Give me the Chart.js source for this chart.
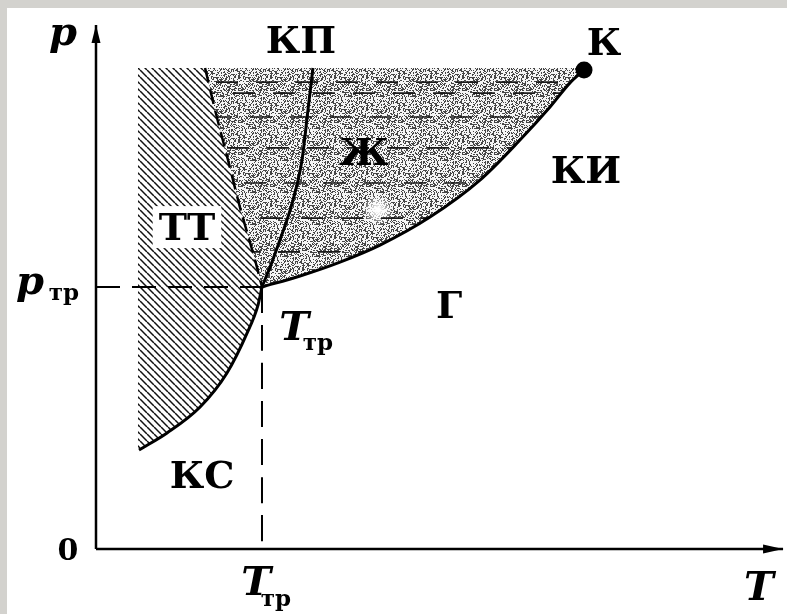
<!DOCTYPE html>
<html><head><meta charset="utf-8">
<script src="https://cdn.jsdelivr.net/npm/chart.js@4.4.1/dist/chart.umd.min.js"></script>
<style>html,body{margin:0;padding:0;background:#fff;overflow:hidden}canvas{display:block}</style>
</head><body>
<canvas id="c" width="787" height="614"></canvas>
<script>
// Units: T measured in T_tr, p measured in p_tr
const sublimationT = [0.259,0.428,0.627,0.789,0.910,0.976,1.000];
const sublimationP = [0.378,0.443,0.542,0.672,0.824,0.931,1.000];
const meltingT = [1.000,1.060,1.108,1.187,1.241,1.277,1.307];
const meltingP = [1.000,1.095,1.179,1.332,1.485,1.676,1.836];
const vaporT = [1.000,1.229,1.470,1.711,2.012,2.313,2.554,2.735,2.855,2.940];
const vaporP = [1.000,1.042,1.095,1.160,1.267,1.408,1.561,1.687,1.779,1.828];
const boundaryT = [0.657,0.717,0.795,0.867,0.958,1.000];
const boundaryP = [1.836,1.676,1.485,1.305,1.103,1.000];
const criticalPoint = [2.940,1.828];
const triplePoint = [1.000,1.000];
const regionTopP = 1.836;
const solidLeftT = 0.253;
const axisTopP = 2.0;
const axisEndT = 4.139;
const liquidRowsP = [1.782,1.740,1.649,1.531,1.397,1.263,1.134];
const labelTexts = ['p','КП','К','Ж','КИ','ТТ','Г','T','тр','КС','0','T','тр','T','p','тр'];
const labelKinds = ['i','b','b','b','b','b','b','i','s','b','n','i','s','i','i','s'];
const labelT = [-0.199,1.235,3.060,1.614,2.952,0.548,2.127,1.193,1.337,0.639,-0.169,0.964,1.084,3.994,-0.398,-0.193];
const labelP = [1.924,1.893,1.885,1.466,1.397,1.179,0.882,0.798,0.760,0.233,-0.042,-0.176,-0.218,-0.195,0.973,0.950];

const pts = (Ts, Ps) => Ts.map((t, i) => ({x: t, y: Ps[i]}));

function hatchPattern(ctx){
  const c = document.createElement('canvas'); c.width = 7; c.height = 7;
  const g = c.getContext('2d');
  g.fillStyle = '#fff'; g.fillRect(0,0,7,7);
  g.strokeStyle = '#111'; g.lineWidth = 1.5;
  for (let k = -1; k <= 1; k++) { g.beginPath(); g.moveTo(0, k*7); g.lineTo(7, 7 + k*7); g.stroke(); }
  return ctx.createPattern(c, 'repeat');
}
function stipplePattern(ctx){
  const n = 32, c = document.createElement('canvas'); c.width = n; c.height = n;
  const g = c.getContext('2d');
  const img = g.createImageData(n, n);
  for (let yy = 0; yy < n; yy++) for (let xx = 0; xx < n; xx++) {
    let h = Math.imul(xx, 374761393) + Math.imul(yy, 668265263);
    h = Math.imul(h ^ (h >>> 13), 1274126177); h = (h ^ (h >>> 16)) >>> 0;
    const v = (h % 100) < 36 ? 70 : 245;
    const o = (yy*n + xx)*4; img.data[o]=v; img.data[o+1]=v; img.data[o+2]=v; img.data[o+3]=255;
  }
  g.putImageData(img, 0, 0);
  return ctx.createPattern(c, 'repeat');
}

const phasePlugin = {
  id: 'phase',
  beforeDraw(chart){
    const ctx = chart.ctx; ctx.save();
    ctx.fillStyle = '#d3d2ce'; ctx.fillRect(0, 0, chart.width, chart.height);
    ctx.fillStyle = '#fff'; ctx.fillRect(7, 8, chart.width - 7, chart.height - 8);
    ctx.restore();
  },
  beforeDatasetsDraw(chart){
    const {ctx, scales: {x, y}} = chart;
    const X = v => x.getPixelForValue(v), Y = v => y.getPixelForValue(v);
    // liquid region
    ctx.save();
    ctx.beginPath();
    ctx.moveTo(X(boundaryT[0]), Y(regionTopP));
    ctx.lineTo(X(criticalPoint[0]), Y(regionTopP));
    for (let i = vaporT.length - 1; i >= 0; i--) ctx.lineTo(X(vaporT[i]), Y(vaporP[i]));
    for (let i = boundaryT.length - 1; i >= 0; i--) ctx.lineTo(X(boundaryT[i]), Y(boundaryP[i]));
    ctx.closePath();
    ctx.fillStyle = stipplePattern(ctx);
    ctx.fill();
    ctx.clip();
    const g = ctx.createRadialGradient(X(1.699), Y(1.294), 2, X(1.699), Y(1.294), 16);
    g.addColorStop(0, 'rgba(255,255,255,1)'); g.addColorStop(1, 'rgba(255,255,255,0)');
    ctx.fillStyle = g; ctx.fillRect(X(1.699) - 20, Y(1.294) - 20, 40, 40);
    ctx.strokeStyle = '#1a1a1a'; ctx.lineWidth = 1.6; ctx.setLineDash([22, 18]);
    liquidRowsP.forEach((p, i) => {
      ctx.lineDashOffset = (i % 2) * 20 + i * 3;
      ctx.beginPath(); ctx.moveTo(X(0), Y(p)); ctx.lineTo(X(axisEndT), Y(p)); ctx.stroke();
    });
    ctx.restore();
    // solid (hatched) region
    ctx.save();
    ctx.beginPath();
    ctx.moveTo(X(solidLeftT), Y(regionTopP));
    for (let i = 0; i < boundaryT.length; i++) ctx.lineTo(X(boundaryT[i]), Y(boundaryP[i]));
    for (let i = sublimationT.length - 1; i >= 0; i--) ctx.lineTo(X(sublimationT[i]), Y(sublimationP[i]));
    ctx.lineTo(X(solidLeftT), Y(sublimationP[0]));
    ctx.closePath();
    ctx.fillStyle = hatchPattern(ctx);
    ctx.fill();
    ctx.restore();
  },
  afterDatasetsDraw(chart){
    const {ctx, scales: {x, y}} = chart;
    const X = v => x.getPixelForValue(v), Y = v => y.getPixelForValue(v);
    ctx.save();
    // arrowheads
    ctx.fillStyle = '#000';
    const ty = Y(axisTopP), ax = X(0);
    ctx.beginPath(); ctx.moveTo(ax, ty); ctx.lineTo(ax - 4.5, ty + 18); ctx.lineTo(ax + 4.5, ty + 18); ctx.closePath(); ctx.fill();
    const tx = X(axisEndT), ay = Y(0);
    ctx.beginPath(); ctx.moveTo(tx, ay); ctx.lineTo(tx - 20, ay - 4.5); ctx.lineTo(tx - 20, ay + 4.5); ctx.closePath(); ctx.fill();
    // labels
    const fonts = {
      i: 'italic bold 40px "DejaVu Serif"',
      b: 'bold 38px "DejaVu Serif"',
      s: 'bold 23px "DejaVu Serif"',
      n: 'bold 30px "DejaVu Serif"'
    };
    ctx.textAlign = 'center'; ctx.textBaseline = 'alphabetic';
    labelTexts.forEach((t, i) => {
      ctx.font = fonts[labelKinds[i]];
      const px = X(labelT[i]), py = Y(labelP[i]);
      if (t === 'ТТ') {
        const w = ctx.measureText(t).width;
        ctx.fillStyle = '#fff'; ctx.fillRect(px - w/2 - 6, py - 34, w + 12, 42);
      }
      ctx.fillStyle = '#000';
      ctx.fillText(t, px, py);
    });
    ctx.restore();
  }
};

const lineDs = (data, extra) => Object.assign({
  data, showLine: true, borderColor: '#000', backgroundColor: '#000',
  borderWidth: 3, pointRadius: 0, pointHoverRadius: 0, fill: false,
  cubicInterpolationMode: 'monotone'
}, extra || {});

new Chart(document.getElementById('c'), {
  type: 'scatter',
  data: { datasets: [
    lineDs(pts(sublimationT, sublimationP)),
    lineDs(pts(meltingT, meltingP)),
    lineDs(pts(vaporT, vaporP)),
    lineDs(pts(boundaryT, boundaryP), {borderWidth: 2.5, borderDash: [15, 7]}),
    lineDs([{x: 0, y: triplePoint[1]}, {x: triplePoint[0], y: triplePoint[1]}], {borderWidth: 2, borderDash: [24, 12]}),
    lineDs([{x: triplePoint[0], y: triplePoint[1]}, {x: triplePoint[0], y: 0}], {borderWidth: 2, borderDash: [26, 12]}),
    lineDs([{x: 0, y: 0}, {x: 0, y: axisTopP}], {borderWidth: 2.5}),
    lineDs([{x: 0, y: 0}, {x: axisEndT, y: 0}], {borderWidth: 2.5}),
    {data: [{x: criticalPoint[0], y: criticalPoint[1]}], showLine: false, pointRadius: 8.5, pointHoverRadius: 8.5, backgroundColor: '#000', borderColor: '#000', borderWidth: 0}
  ]},
  options: {
    responsive: false, animation: false, devicePixelRatio: 1,
    layout: {padding: 0, autoPadding: false},
    plugins: {legend: {display: false}, tooltip: {enabled: false}},
    events: [],
    scales: {
      x: {type: 'linear', display: false, min: -0.5783, max: 4.1627},
      y: {type: 'linear', display: false, min: -0.2481, max: 2.0954}
    }
  },
  plugins: [phasePlugin]
});
</script>
</body></html>
